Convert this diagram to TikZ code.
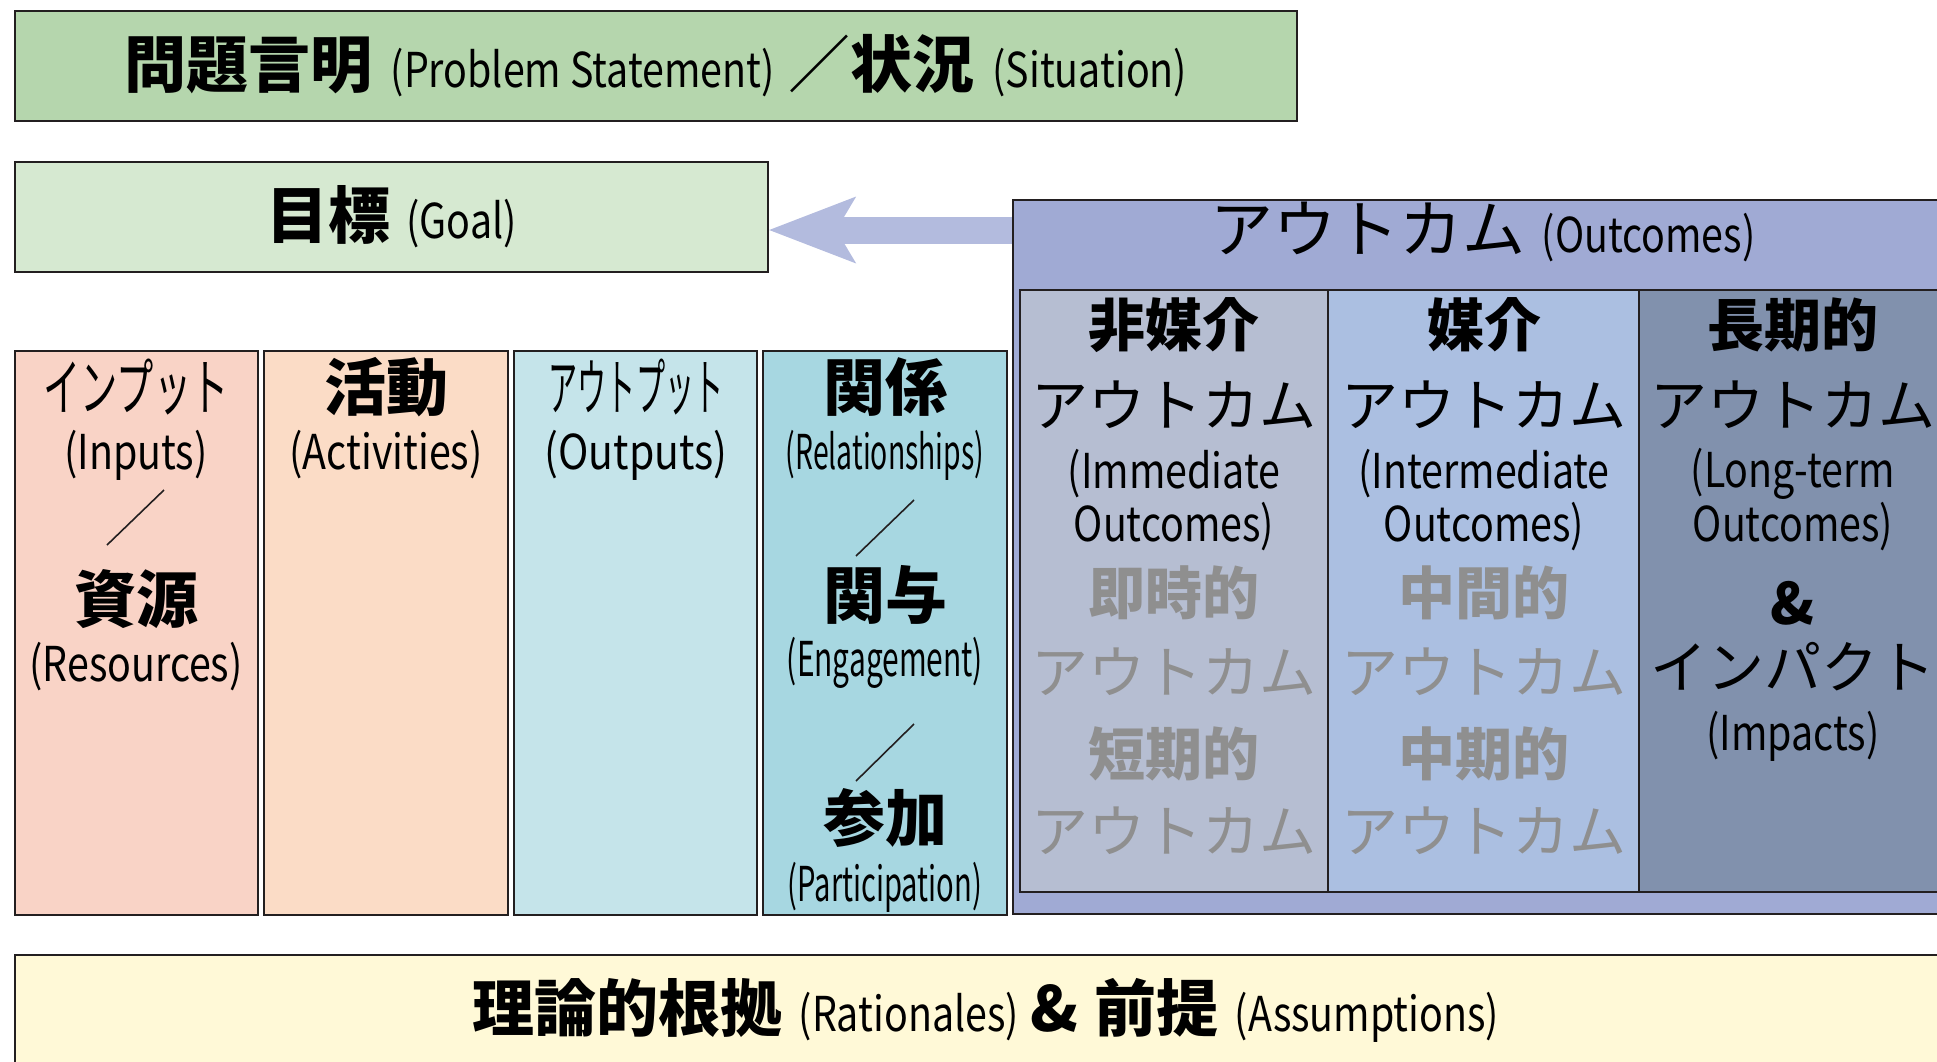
\documentclass[tikz,border=0pt]{standalone}
\usepackage{fontspec}
\setmainfont{Noto Sans CJK JP}
\newfontfamily\latfont[FakeStretch=0.82]{Noto Sans CJK JP}
\usetikzlibrary{fit,arrows.meta}

\definecolor{probgreen}{HTML}{B5D6AD}
\definecolor{goalgreen}{HTML}{D6E9D1}
\definecolor{arrowblue}{HTML}{B3BBDE}
\definecolor{outblue}{HTML}{A0AAD4}
\definecolor{immgray}{HTML}{B6BED2}
\definecolor{intblue}{HTML}{ABBFE1}
\definecolor{longblue}{HTML}{8191AD}
\definecolor{inpink}{HTML}{F9D3C6}
\definecolor{actpeach}{HTML}{FBDCC6}
\definecolor{outcyan}{HTML}{C5E4EA}
\definecolor{relcyan}{HTML}{A7D7E1}
\definecolor{ratyellow}{HTML}{FFF9D7}
\definecolor{edgeblack}{HTML}{231F20}
\definecolor{fadegray}{HTML}{8F8F8F}

\newcommand{\kjbig}{\fontsize{31}{31}\selectfont\bfseries}
\newcommand{\kjreg}{\fontsize{31}{31}\selectfont}
\newcommand{\engl}[1]{{\latfont\fontsize{24}{24}\selectfont #1}}
\newcommand{\squeeze}[2]{\scalebox{#1}[1]{#2}}

\tikzset{
  box/.style={draw=edgeblack, line width=1.2pt, inner sep=0pt},
  plain/.style={inner sep=0pt},
  colkj/.style={plain, font=\fontsize{28.5}{28.5}\selectfont\bfseries},
  colkt/.style={plain, font=\fontsize{28.5}{28.5}\selectfont},
  colen/.style={plain, font=\latfont\fontsize{24}{24}\selectfont},
  leftkj/.style={plain, font=\fontsize{31}{31}\selectfont\bfseries},
  leftkt/.style={plain, font=\fontsize{31}{31}\selectfont},
  faded/.style={text=fadegray},
  slashline/.style={draw=edgeblack, line width=0.8pt},
  goalarrow/.style={draw=arrowblue, line width=13.5pt,
    -{Stealth[length=43.5pt, width=33.5pt, inset=10pt, line width=0pt]}}
}

\begin{document}
\begin{tikzpicture}[x=0.5pt, y=-0.5pt]
  \useasboundingbox (0,0) rectangle (1937,1061);
  \clip (0,0) rectangle (1937,1061);

  % Problem statement and goal
  \node[box, fill=probgreen, fit={(15,11) (1297,121)}] (problem) {};
  \node[plain] (problemtext) at (problem.center)
    {{\kjbig 問題言明}\hspace{9pt}\engl{(Problem Statement)}\hspace{7pt}{\kjreg ／}{\kjbig 状況}\hspace{9pt}\engl{(Situation)}};
  \node[box, fill=goalgreen, fit={(15,162) (768,272)}] (goal) {};
  \node[plain] (goaltext) at (goal.center) {{\kjbig 目標}\hspace{8pt}\engl{(Goal)}};

  % Outcomes block
  \node[box, fill=outblue, fit={(1013,200) (1955,914)}] (outcomes) {};
  \node[plain] (outtext) at (1483,232)
    {{\fontsize{31.5}{31.5}\selectfont アウトカム}\hspace{8pt}\engl{(Outcomes)}};
  \node[box, fill=immgray, fit={(1020,290) (1328,892)}] (immediate) {};
  \node[box, fill=intblue, fit={(1328,290) (1639,892)}] (intermediate) {};
  \node[box, fill=longblue, fit={(1639,290) (1950,892)}] (longterm) {};

  \draw[goalarrow] (outcomes.west |- 0,230) -- (goal.east |- 0,230);

  % Immediate outcomes
  \node[colkj] (immkj) at (1174,325) {非媒介};
  \node[colkt] (immkt) at (1174,405) {アウトカム};
  \node[colen] (immen) at (1174,474) {(Immediate};
  \node[colen] (immen2) at (1174,527) {Outcomes)};
  \node[colkj, faded] (immfade) at (1174,593) {即時的};
  \node[colkt, faded] (immfade2) at (1174,672) {アウトカム};
  \node[colkj, faded] (immfade3) at (1174,754) {短期的};
  \node[colkt, faded] (immfade4) at (1174,831) {アウトカム};

  % Intermediate outcomes
  \node[colkj] (intkj) at (1484,325) {媒介};
  \node[colkt] (intkt) at (1484,405) {アウトカム};
  \node[colen] (inten) at (1484,474) {(Intermediate};
  \node[colen] (inten2) at (1484,527) {Outcomes)};
  \node[colkj, faded] (intfade) at (1484,593) {中間的};
  \node[colkt, faded] (intfade2) at (1484,672) {アウトカム};
  \node[colkj, faded] (intfade3) at (1484,754) {中期的};
  \node[colkt, faded] (intfade4) at (1484,831) {アウトカム};

  % Long-term outcomes and impacts
  \node[colkj] (longkj) at (1793,325) {長期的};
  \node[colkt] (longkt) at (1793,405) {アウトカム};
  \node[colen] (longen) at (1793,474) {(Long-term};
  \node[colen] (longen2) at (1793,527) {Outcomes)};
  \node[colkj] (impamp) at (1793,603) {\&};
  \node[colkt] (impkt) at (1793,667) {インパクト};
  \node[colen] (impen) at (1793,736) {(Impacts)};

  % Logic model columns
  \node[box, fill=inpink, fit={(15,351) (258,915)}] (inputs) {};
  \node[box, fill=actpeach, fit={(264,351) (508,915)}] (activities) {};
  \node[box, fill=outcyan, fit={(514,351) (757,915)}] (outputs) {};
  \node[box, fill=relcyan, fit={(763,351) (1007,915)}] (relations) {};

  \node[leftkt] (inkt) at (136,387) {\squeeze{0.6}{インプット}};
  \node[colen] (inen) at (136,455) {(Inputs)};
  \draw[slashline] (107,545) -- (164,490);
  \node[leftkj] (reskj) at (136,599) {資源};
  \node[colen] (resen) at (136,667) {(Resources)};

  \node[leftkj] (actkj) at (386,387) {活動};
  \node[colen] (acten) at (386,455) {(Activities)};

  \node[leftkt] (outkt) at (636,387) {\squeeze{0.47}{アウトプット}};
  \node[colen] (outen) at (636,455) {\squeeze{1.04}{(Outputs)}};

  \node[leftkj] (relkj) at (885,387) {関係};
  \node[colen] (relen) at (885,455) {\squeeze{0.72}{(Relationships)}};
  \draw[slashline] (856,556) -- (914,500);
  \node[leftkj] (engkj) at (885,595) {関与};
  \node[colen] (engen) at (885,663) {\squeeze{0.76}{(Engagement)}};
  \draw[slashline] (856,781) -- (914,724);
  \node[leftkj] (parkj) at (885,818) {参加};
  \node[colen] (paren) at (885,887) {\squeeze{0.74}{(Participation)}};

  % Rationales and assumptions
  \node[box, fill=ratyellow, fit={(15,955) (1960,1080)}] (rationale) {};
  \node[plain] (rattext) at (986,1010)
    {{\kjbig 理論的根拠}\hspace{8pt}\engl{(Rationales)}\hspace{6pt}{\kjbig \&}\hspace{8pt}{\kjbig 前提}\hspace{8pt}\engl{(Assumptions)}};
\end{tikzpicture}
\end{document}
